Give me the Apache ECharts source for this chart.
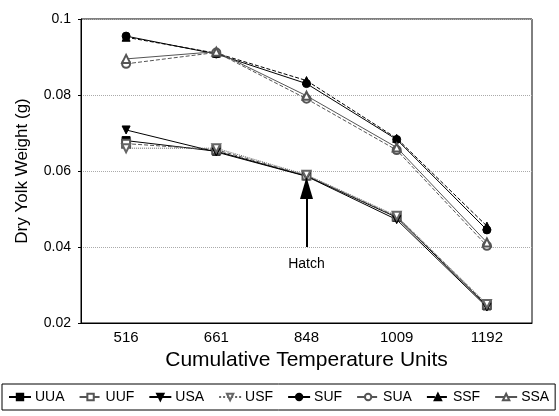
<!DOCTYPE html>
<html>
<head>
<meta charset="utf-8">
<script src="https://cdn.jsdelivr.net/npm/echarts@6/dist/echarts.min.js"></script>
<style>
  html, body { margin: 0; padding: 0; background: #fff; }
  #chart { width: 559px; height: 416px; }
</style>
</head>
<body>
<div id="chart"></div>
<script>
var chart = echarts.init(document.getElementById('chart'));

// x categories (cumulative temperature units)
var ctu = ['516', '661', '848', '1009', '1192'];

// dry yolk weight (g)
var UUA = [0.0680, 0.0652, 0.0587, 0.0478, 0.0245];
var UUF = [0.0672, 0.0656, 0.0588, 0.0480, 0.0248];
var USA = [0.0708, 0.0650, 0.0586, 0.0472, 0.0242];
var USF = [0.0660, 0.0660, 0.0590, 0.0482, 0.0250];
var SUF = [0.0955, 0.0908, 0.0830, 0.0683, 0.0445];
var SUA = [0.0882, 0.0912, 0.0790, 0.0655, 0.0403];
var SSF = [0.0952, 0.0910, 0.0838, 0.0686, 0.0455];
var SSA = [0.0895, 0.0914, 0.0798, 0.0662, 0.0412];

var yTicks = [0.02, 0.04, 0.06, 0.08, 0.1];

// hatch arrow: from / to on the 848 column
var hatchArrow = [0.0400, 0.0555];

var font = 'Liberation Sans, Arial, sans-serif';

function mk(name, data, symbol, rotate, lineType, color) {
    return {
        name: name,
        type: 'line',
        data: data,
        symbol: symbol,
        symbolSize: 8,
        symbolRotate: rotate,
        lineStyle: { color: color, width: 1, type: lineType },
        itemStyle: { color: color, borderColor: color, borderWidth: 1 },
        emphasis: { disabled: true }
    };
}

var series = [
    mk('UUA', UUA, 'rect', 0, 'solid', '#000'),
    mk('UUF', UUF, 'emptyRect', 0, 'dashed', '#555'),
    mk('USA', USA, 'triangle', 180, 'solid', '#000'),
    mk('USF', USF, 'emptyTriangle', 180, 'dotted', '#666'),
    mk('SUF', SUF, 'circle', 0, 'solid', '#000'),
    mk('SUA', SUA, 'emptyCircle', 0, 'dashed', '#555'),
    mk('SSF', SSF, 'triangle', 0, 'dashed', '#000'),
    mk('SSA', SSA, 'emptyTriangle', 0, 'solid', '#555')
];

// hatch arrow
series[0].markLine = {
    silent: true,
    symbol: ['none', 'triangle'],
    symbolSize: [13, 22],
    lineStyle: { color: '#000', width: 2, type: 'solid' },
    label: {
        show: true, position: 'start', formatter: 'Hatch',
        color: '#000', fontSize: 14, fontFamily: font, distance: 10
    },
    data: [[{ coord: ['848', hatchArrow[0]] }, { coord: ['848', hatchArrow[1]] }]]
};

chart.setOption({
    animation: false,
    backgroundColor: '#fff',
    grid: { left: 81, right: 27, top: 19, bottom: 93, show: true, borderColor: '#000', borderWidth: 1 },
    legend: {
        left: 2, top: 384,
        padding: [6, 6],
        itemGap: 14,
        itemWidth: 22, itemHeight: 8,
        borderColor: '#000', borderWidth: 1,
        textStyle: { fontSize: 14, fontFamily: font, color: '#000', padding: [0, 0, 0, -1] },
        data: series.map(function (s) { return s.name; })
    },
    xAxis: {
        type: 'category',
        data: ctu,
        name: 'Cumulative Temperature Units',
        nameLocation: 'middle',
        nameGap: 25,
        nameTextStyle: { fontSize: 21, fontFamily: font, color: '#000' },
        axisLine: { lineStyle: { color: '#000' } },
        axisTick: { alignWithLabel: true, inside: true, length: 5, lineStyle: { color: '#000' } },
        axisLabel: { fontSize: 15, fontFamily: font, color: '#000', margin: 7 },
        splitLine: { show: false }
    },
    yAxis: {
        type: 'value',
        min: yTicks[0], max: yTicks[yTicks.length - 1], interval: 0.02,
        name: 'Dry Yolk Weight (g)',
        nameLocation: 'middle',
        nameGap: 50,
        nameTextStyle: { fontSize: 17, fontFamily: font, color: '#000' },
        axisLine: { show: true, lineStyle: { color: '#000' } },
        axisTick: { show: true, length: 3, lineStyle: { color: '#000' } },
        axisLabel: { fontSize: 14, fontFamily: font, color: '#000', margin: 10 },
        splitLine: { show: true, lineStyle: { color: '#aaa', type: 'dotted' } }
    },
    series: series
});
</script>
</body>
</html>
